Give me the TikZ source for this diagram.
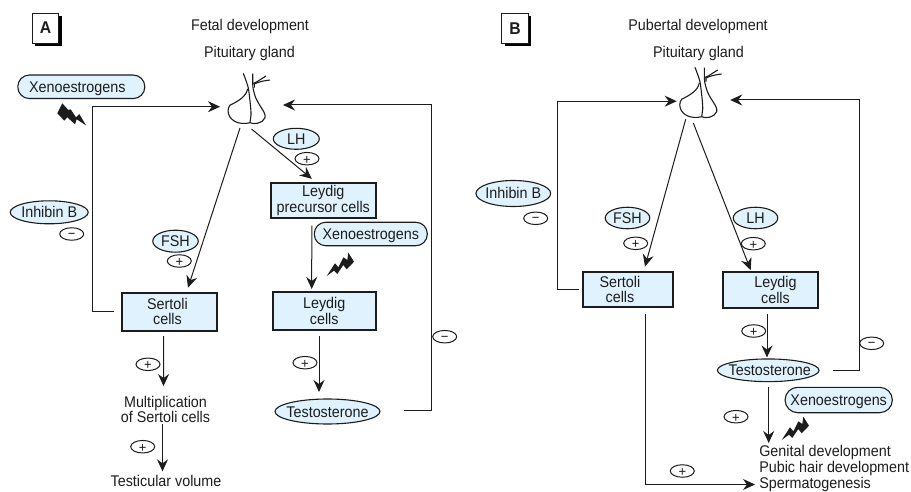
\documentclass[tikz,border=0pt]{standalone}
\usepackage{fontspec}
\setmainfont[FakeStretch=0.925]{Liberation Sans}
\usetikzlibrary{arrows.meta,shapes.geometric,shadows,calc}
\definecolor{pale}{HTML}{DFF2FD}
\definecolor{ink}{HTML}{1C1C1C}
\newcommand\ctr[1]{\makebox[0pt]{\raisebox{-5.5pt}[0pt][0pt]{#1}}}
\tikzset{
  x=1pt,y=-1pt,
  every node/.style={text=ink,font=\fontsize{15.5}{15.5}\selectfont,inner sep=0pt,outer sep=0pt},
  wire/.style={draw=ink,line width=1pt},
  arr/.style={wire,-{Stealth[length=12pt,width=11pt,inset=4pt]}},
  cellbox/.style={draw=ink,line width=2pt,fill=pale,align=center},
  oval/.style={ellipse,draw=ink,line width=1.1pt,fill=pale},
  pill/.style={rectangle,rounded corners=11.5pt,draw=ink,line width=1.1pt,fill=pale,minimum height=23.5pt},
  sign/.style={ellipse,draw=ink,line width=1pt,fill=white,minimum width=24pt,minimum height=12.5pt,font=\fontsize{14}{14}\selectfont},
  panel/.style={rectangle,draw=ink,line width=.8pt,fill=white,minimum width=26.5pt,minimum height=30pt,
     font=\bfseries\fontsize{17}{17}\selectfont,drop shadow={shadow xshift=3pt,shadow yshift=-3pt,fill=black,opacity=1}},
  caption/.style={align=center},
  bolt/.style={fill=ink,draw=none},
  pics/gland/.style={code={
    \draw[line width=1.1pt,draw=ink,line join=round]
      (-6.7,-49.3) .. controls (-3,-40) and (-1.3,-34) .. (-1.3,-32.7)
      .. controls (0,-22) and (1.2,-12) .. (1,-7.7) -- (0,0);
    \draw[line width=1.1pt,draw=ink,line join=round]
      (-2.3,-34) .. controls (-4,-26) and (-11,-22) .. (-20,-17.5)
      .. controls (-25,-11) and (-20,0) .. (-8,0.7) .. controls (-5,1) and (-2,.5) .. (0,0)
      .. controls (3,2) and (13,1) .. (15,-5) .. controls (16.5,-11) and (7,-18) .. (4.3,-29.3)
      .. controls (3,-34) and (2.7,-36) .. (2.7,-39) -- (2.7,-49);
    \draw[line width=1.1pt,draw=ink] (2.7,-39) -- (7,-41) -- (16,-46.7);
    \draw[line width=1.1pt,draw=ink] (4.3,-35) -- (4.3,-38.7) .. controls (9,-41) and (14,-42) .. (20,-42.7);
  }}
}
\begin{document}
\begin{tikzpicture}
\useasboundingbox (0,0) rectangle (911,492);
% ---------- Panel A
\node[panel] (labA) at (45.5,28) {A};
\node[caption] (titA) at (250,26.5) {Fetal development};
\node[caption] (pgA) at (249.5,53) {Pituitary gland};
\pic at (250,122.7) {gland};
\coordinate (pitA) at (250,122.7);
\node[pill,minimum width=127pt] (xeA) at (81.3,86.8) {\ctr{\hspace*{-8pt}Xenoestrogens}};
\node[oval,minimum width=78pt,minimum height=23pt] (inhA) at (49.2,212.3) {\ctr{Inhibin B}};
\node[sign] (mA1) at (71.7,234) {\ctr{\raisebox{1pt}{−}}};
\node[oval,minimum width=45.5pt,minimum height=22pt] (fshA) at (175.5,241.2) {\ctr{FSH}};
\node[sign] (pA1) at (179.3,261) {\ctr{+}};
\node[oval,minimum width=46pt,minimum height=21pt] (lhA) at (296.3,138.8) {\ctr{LH}};
\node[sign] (pA2) at (307,158.7) {\ctr{+}};
\node[cellbox,minimum width=95.6pt,minimum height=38pt] (sertA) at (169.5,311.7) {Sertoli\hspace*{4pt}\\cells\hspace*{4pt}};
\node[cellbox,minimum width=104.7pt,minimum height=34.4pt] (preA) at (323.3,200.5) {Leydig\\precursor cells};
\node[cellbox,minimum width=103pt,minimum height=38pt] (leyA) at (324.2,311) {Leydig\\cells};
\node[pill,minimum width=113pt] (xeA2) at (370.8,234) {\ctr{Xenoestrogens}};
\node[oval,minimum width=105pt,minimum height=25pt] (tesA) at (327.5,411.5) {\ctr{Testosterone}};
\node[sign] (pA3) at (305,362.7) {\ctr{+}};
\node[sign] (mA2) at (444.7,336.7) {\ctr{\raisebox{1pt}{−}}};
\node[sign] (pA4) at (148,364.3) {\ctr{+}};
\node[sign] (pA5) at (142.7,446.7) {\ctr{+}};
\node[caption] (mulA) at (165.5,409.5) {Multiplication\\of Sertoli cells};
\node[caption] (volA) at (166,481) {Testicular volume};
% connectors A
\draw[arr] ([shift={(-8,0)}]sertA.west) -- ++(-21,0) |- ([shift={(-30,-16)}]pitA);
\draw[arr] ([shift={(24,-1.5)}]tesA.east) -- ++(27,0) |- ([shift={(33,-17.7)}]pitA);
\draw[arr] ([shift={(-10,5.3)}]pitA) -- ([shift={(18.5,-5)}]sertA.north);
\draw[arr] ([shift={(1.5,6.3)}]pitA) -- ([shift={(-11.5,-4.5)}]preA.north);
\draw[arr] ([shift={(-11.5,8)}]preA.south) -- ([shift={(-12.5,-3)}]leyA.north);
\draw[arr] ([shift={(-5.2,6)}]leyA.south) -- ([shift={(-8.5,-7)}]tesA.north);
\draw[arr] ([shift={(-5.8,5.3)}]sertA.south) -- ([shift={(-2,-10)}]mulA.north);
\draw[arr] ([shift={(-3,1)}]mulA.south) -- ([shift={(-3.5,-4)}]volA.north);
% bolts A
\fill[bolt] (62.3,103.3) -- (68.3,110) -- (70.7,109.3) -- (76,117.3) -- (79.3,114) -- (86,125.3) -- (76.7,119.3) -- (75,124.3) -- (67.3,117.3) -- (64.3,120.7) -- (57.3,113.3) -- cycle;
\fill[bolt] (326.7,276) -- ++(8.3,-12.7) -- ++(3.4,4) -- ++(5,-10) -- ++(3.9,2.7) -- ++(1,-7.3) -- ++(5.7,9) -- ++(-7.3,7.6) -- ++(-3.4,-4.3) -- ++(-6,9) -- ++(-3.3,-3.3) -- cycle;
% ---------- Panel B
\node[panel] (labB) at (515,28.5) {B};
\node[caption] (titB) at (698,26.5) {Pubertal development};
\node[caption] (pgB) at (698.5,53) {Pituitary gland};
\pic at (701.7,116.7) {gland};
\coordinate (pitB) at (701.7,116.7);
\node[oval,minimum width=74.7pt,minimum height=26pt] (inhB) at (513.3,193.5) {\ctr{Inhibin B}};
\node[sign] (mB1) at (535.7,218.3) {\ctr{\raisebox{1pt}{−}}};
\node[oval,minimum width=44.5pt,minimum height=21.5pt] (fshB) at (627.5,218) {\ctr{FSH}};
\node[sign] (pB1) at (635.7,243.3) {\ctr{+}};
\node[oval,minimum width=44.5pt,minimum height=21.5pt] (lhB) at (755.5,218) {\ctr{LH}};
\node[sign] (pB2) at (753.3,243.7) {\ctr{+}};
\node[cellbox,minimum width=90.6pt,minimum height=35.3pt] (sertB) at (628,289.7) {Sertoli\hspace*{16pt}\\cells\hspace*{16pt}};
\node[cellbox,minimum width=95.6pt,minimum height=35.7pt] (leyB) at (770.5,290.2) {\hspace*{10pt}Leydig\\\hspace*{10pt}cells};
\node[oval,minimum width=101.7pt,minimum height=22.7pt] (tesB) at (768.2,370.3) {\ctr{\hspace*{3pt}Testosterone}};
\node[pill,minimum width=107.3pt,minimum height=25.4pt,rounded corners=12.7pt] (xeB) at (838.7,400) {\ctr{Xenoestrogens}};
\node[sign] (pB3) at (753.7,331) {\ctr{+}};
\node[sign] (mB2) at (871.7,343.3) {\ctr{\raisebox{1pt}{−}}};
\node[sign] (pB4) at (736,416.7) {\ctr{+}};
\node[sign] (pB5) at (682.3,471) {\ctr{+}};
\node[caption,align=left,anchor=north west] (outB) at (759.3,445.5) {Genital development\\[.5pt]Pubic hair development\\[.5pt]Spermatogenesis};
% connectors B
\draw[arr] ([shift={(-4,0)}]sertB.west) -- ++(-21,0) |- ([shift={(-25,-15.5)}]pitB);
\draw[arr] ([shift={(14,.5)}]tesB.east) -- ++(26.5,0) |- ([shift={(28.5,-16.7)}]pitB);
\draw[arr] ([shift={(-16,2.6)}]pitB) -- ([shift={(17,-5.5)}]sertB.north);
\draw[arr] ([shift={(-8.4,6.3)}]pitB) -- ([shift={(-19.8,-2.2)}]leyB.north);
\draw[arr] ([shift={(-3.5,5.5)}]leyB.south) -- ([shift={(-1.2,-1.5)}]tesB.north);
\draw[arr] ([shift={(.5,5.5)}]tesB.south) -- (768.7,443);
\draw[arr] ([shift={(17.7,6.5)}]sertB.south) |- (755,484.5);
% bolt B
\fill[bolt] (781.7,440) -- ++(8.3,-12.7) -- ++(3.4,4) -- ++(5,-10) -- ++(3.9,2.7) -- ++(1,-7.3) -- ++(5.7,9) -- ++(-7.3,7.6) -- ++(-3.4,-4.3) -- ++(-6,9) -- ++(-3.3,-3.3) -- cycle;
\end{tikzpicture}
\end{document}
